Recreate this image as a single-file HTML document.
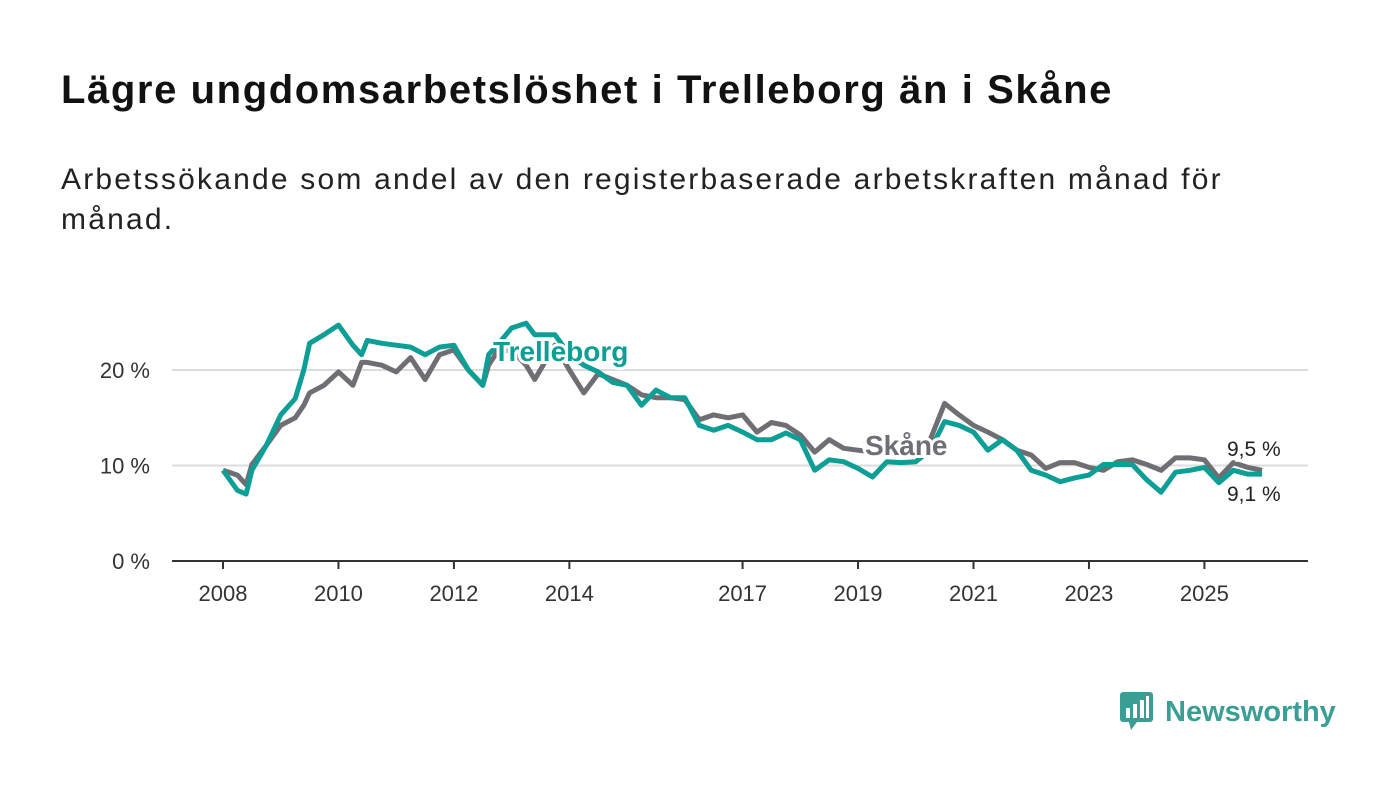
<!DOCTYPE html>
<html><head><meta charset="utf-8"><style>
body{margin:0;width:1400px;height:794px;background:#fff;font-family:"Liberation Sans","DejaVu Sans",sans-serif;overflow:hidden;position:relative}
h1{position:absolute;left:61px;top:68px;margin:0;font-size:40px;font-weight:bold;color:#111;letter-spacing:1.6px;white-space:nowrap}
p.sub{position:absolute;left:61px;top:160px;margin:0;font-size:30px;line-height:40px;color:#222;width:1320px;letter-spacing:2.2px}
svg{position:absolute;left:0;top:0}
text{font-family:"Liberation Sans","DejaVu Sans",sans-serif}
</style></head><body>
<h1>Lägre ungdomsarbetslöshet i Trelleborg än i Skåne</h1>
<p class="sub">Arbetssökande som andel av den registerbaserade arbetskraften månad för<br>månad.</p>
<svg id="chart" width="1400" height="794"></svg>
<div style="position:absolute;left:1119px;top:690px;height:44px;display:flex;align-items:center">
<svg width="36" height="44" style="position:static"><rect x="1" y="2" width="33" height="30" rx="3" fill="#3a9e95"/><polygon points="10,32 18,32 12,40" fill="#3a9e95"/><rect x="7" y="18" width="4" height="10" fill="#fff"/><rect x="14" y="14" width="4" height="14" fill="#fff"/><rect x="21" y="10" width="4" height="18" fill="#fff"/><rect x="27" y="6" width="3" height="22" fill="#fff"/></svg>
<span style="font-size:29px;color:#3a9e95;font-weight:bold;margin-left:10px;font-family:'Liberation Sans',sans-serif">Newsworthy</span></div>
<script>
const years=[2008,2008.25,2008.4,2008.5,2008.75,2009,2009.25,2009.4,2009.5,2009.75,2010,2010.25,2010.4,2010.5,2010.75,2011,2011.25,2011.5,2011.75,2012,2012.25,2012.5,2012.6,2012.75,2013,2013.25,2013.4,2013.75,2014,2014.25,2014.5,2014.75,2015,2015.25,2015.5,2015.75,2016,2016.25,2016.5,2016.75,2017,2017.25,2017.5,2017.75,2018,2018.25,2018.5,2018.75,2019,2019.25,2019.5,2019.75,2020,2020.25,2020.5,2020.75,2021,2021.25,2021.5,2021.75,2022,2022.25,2022.5,2022.75,2023,2023.25,2023.5,2023.75,2024,2024.25,2024.5,2024.75,2025,2025.25,2025.5,2025.75,2026];
const trelleborg=[9.5,7.4,7,9.5,12.1,15.3,17,20,22.8,23.7,24.7,22.6,21.6,23.1,22.8,22.6,22.4,21.6,22.4,22.6,20,18.4,21.6,22.6,24.4,24.9,23.7,23.7,21.6,20.5,19.8,18.7,18.4,16.3,17.9,17.1,17.1,14.2,13.7,14.2,13.5,12.7,12.7,13.4,12.7,9.5,10.6,10.4,9.7,8.8,10.4,10.3,10.4,11.6,14.6,14.2,13.5,11.6,12.7,11.6,9.5,9.0,8.3,8.7,9.0,10.1,10.1,10.1,8.5,7.2,9.3,9.5,9.8,8.2,9.5,9.1,9.1];
const skane=[9.5,9.0,8.0,10.1,12.1,14.2,15.0,16.3,17.6,18.4,19.8,18.4,20.8,20.8,20.5,19.8,21.3,19,21.6,22.1,20,18.4,20.5,21.9,22.1,20.5,19,22.6,20,17.6,19.6,19,18.4,17.4,17.1,17.1,16.9,14.8,15.3,15,15.3,13.5,14.5,14.2,13.2,11.4,12.7,11.8,11.6,11.4,11.2,11.2,11.4,12.7,16.5,15.3,14.2,13.5,12.7,11.6,11.1,9.7,10.3,10.3,9.8,9.5,10.4,10.6,10.1,9.5,10.8,10.8,10.6,8.7,10.3,9.8,9.5];
const yTicks=[0,10,20];
const xTicks=[2008,2010,2012,2014,2017,2019,2021,2023,2025];
const svg=document.getElementById('chart'),NS='http://www.w3.org/2000/svg';
const X=y=>223+(y-2008)*57.73, Y=v=>561-v*9.55;
function el(t,a){const e=document.createElementNS(NS,t);for(const k in a)e.setAttribute(k,a[k]);svg.appendChild(e);return e;}
yTicks.forEach(t=>{
 if(t>0){const g=el('line',{x1:172,x2:1308,y1:Y(t),y2:Y(t),stroke:'#dcdcdc','stroke-width':2});
 
 }
 const l=el('text',{x:150,y:Y(t)+8,'text-anchor':'end','font-size':22,fill:'#333'});l.textContent=t+' %';
 
 
});
const ax=el('line',{x1:172,x2:1308,y1:561,y2:561,stroke:'#333','stroke-width':2});


xTicks.forEach(t=>{
 const tk=el('line',{x1:X(t),x2:X(t),y1:561,y2:569,stroke:'#333','stroke-width':2});
 
 
 const l=el('text',{x:X(t),y:601,'text-anchor':'middle','font-size':22,fill:'#333'});l.textContent=t;
 
 
});
function line(vals,col,name){
 const d=vals.map((v,i)=>(i?'L':'M')+X(years[i]).toFixed(1)+','+Y(v).toFixed(1)).join('');
 const p=el('path',{d:d,fill:'none',stroke:col,'stroke-width':5,'stroke-linejoin':'round'});
 
 
}
line(skane,'#6e6e73','skane-line');
line(trelleborg,'#0d9e95','trelleborg-line');
function lab(x,y,txt,col,name,size,w){
 const t=el('text',{x:x,y:y,'font-size':size,'font-weight':w,fill:col,stroke:'#fff','stroke-width':6,'paint-order':'stroke'});t.textContent=txt;
 
 
}
lab(493,361,'Trelleborg','#0d9e95','trelleborg-label',28,'bold');
lab(865,455,'Skåne','#6e6e73','skane-label',28,'bold');
lab(1227,456,'9,5 %','#222','skane-end-value',21,'normal');
lab(1227,501,'9,1 %','#222','trelleborg-end-value',21,'normal');
</script>
</body></html>
